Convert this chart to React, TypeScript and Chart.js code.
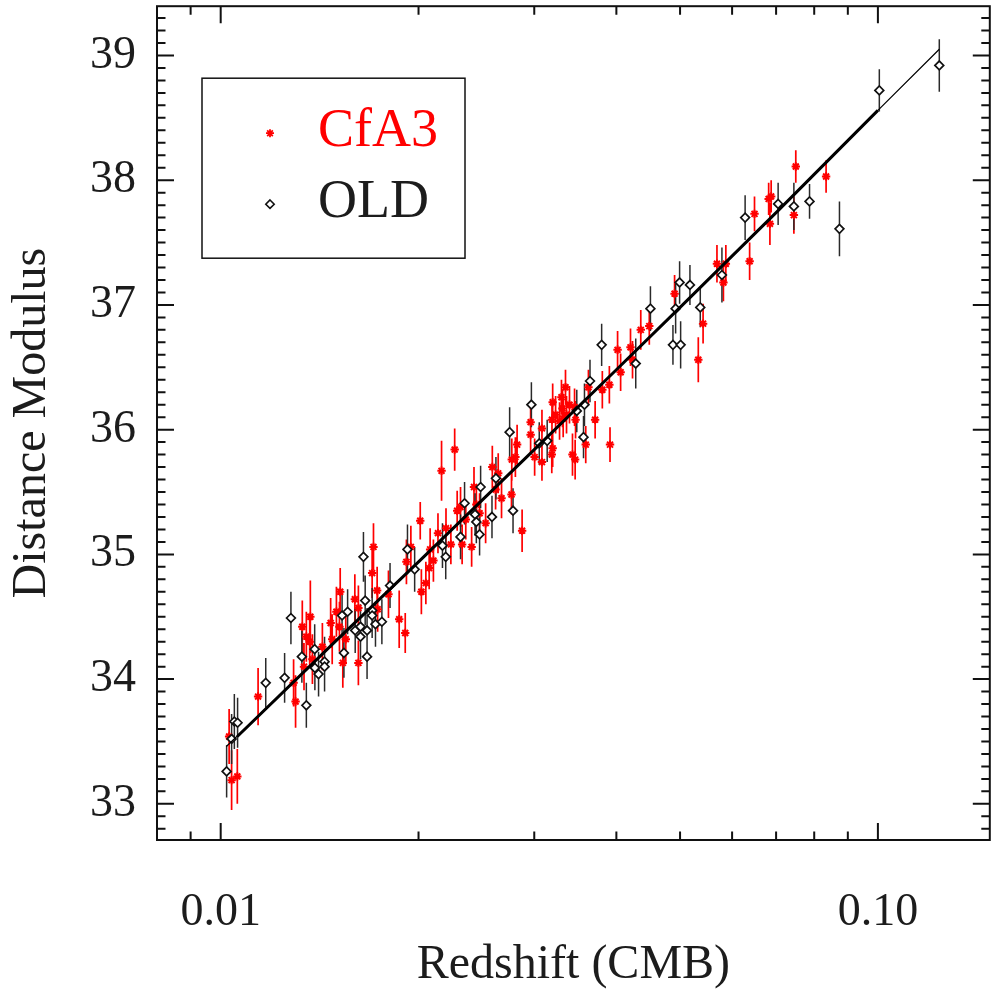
import React, { useEffect, useRef } from 'react';
import { Chart, registerables } from 'chart.js';

Chart.register(...registerables);

const SERIF = '"Liberation Serif", "DejaVu Serif", serif';
const TEXT = '#1c1c1c';

// ---- CfA3 sample (red asterisks) ----
const cfa3Z = [
  0.01039, 0.0106, 0.0103, 0.0114, 0.01291, 0.013, 0.01331, 0.0135, 0.01369, 0.01366,
  0.01379, 0.01339, 0.01428, 0.0147, 0.01478, 0.015, 0.01516, 0.0152, 0.0155, 0.01534,
  0.016, 0.0162, 0.0162, 0.017, 0.01708, 0.0173, 0.01733, 0.018, 0.01869, 0.01909,
  0.01917, 0.01947, 0.0202, 0.02052, 0.02076, 0.02107, 0.02083, 0.02012, 0.02141, 0.02202,
  0.02168, 0.0227, 0.0224, 0.0229, 0.02317, 0.0233, 0.0236, 0.02409, 0.02429, 0.02449,
  0.02477, 0.0253, 0.0259, 0.0262, 0.02644, 0.02675, 0.0277, 0.02773, 0.02825, 0.02808,
  0.02875, 0.02962, 0.02962, 0.03004, 0.03082, 0.03082, 0.032, 0.03192, 0.032, 0.03233,
  0.03278, 0.033, 0.03312, 0.03347, 0.03359, 0.03394, 0.03455, 0.03467, 0.0343, 0.03462,
  0.03593, 0.03627, 0.03713, 0.03808, 0.03903, 0.03912, 0.04017, 0.0406, 0.04203, 0.04233,
  0.04357, 0.04489, 0.04905, 0.0533, 0.0542, 0.0569, 0.0587, 0.0582, 0.0638, 0.0649,
  0.0682, 0.0688, 0.0685, 0.0745, 0.075, 0.0834, 0.0332, 0.0319,
];
const cfa3Mu = [
  33.19, 33.22, 33.54, 33.86, 33.97, 33.82, 34.42, 34.34, 34.5, 34.3,
  34.16, 34.1, 34.26, 34.45, 34.32, 34.54, 34.42, 34.7, 34.32, 34.13,
  34.64, 34.57, 34.13, 34.85, 35.06, 34.71, 34.56, 34.68, 34.48, 34.37,
  34.94, 35.06, 34.7, 34.77, 34.89, 34.95, 35.04, 35.27, 35.17, 35.21,
  35.67, 35.84, 35.08, 35.35, 35.38, 35.08, 35.28, 35.06, 35.54, 35.4,
  35.33, 35.25, 35.7, 35.52, 35.65, 35.45, 35.48, 35.76, 35.88, 35.78,
  35.19, 36.06, 35.96, 35.78, 36.01, 35.74, 35.85, 36.08, 36.22, 36.12,
  36.07, 36.26, 36.17, 36.34, 36.12, 36.2, 36.18, 36.08, 35.8, 35.76,
  35.88, 36.34, 36.08, 36.32, 36.36, 35.88, 36.64, 36.46, 36.66, 36.56,
  36.8, 36.83, 37.09, 36.56, 36.85, 37.33, 37.33, 37.18, 37.35, 37.73,
  37.85, 37.87, 37.65, 37.72, 38.11, 38.03, 36.09, 35.8,
];
const cfa3Err = [
  0.24, 0.22, 0.22, 0.23, 0.19, 0.21, 0.21, 0.2, 0.29, 0.2,
  0.2, 0.19, 0.19, 0.2, 0.2, 0.2, 0.2, 0.19, 0.2, 0.2,
  0.2, 0.18, 0.18, 0.2, 0.19, 0.19, 0.18, 0.19, 0.23, 0.16,
  0.18, 0.17, 0.18, 0.17, 0.17, 0.17, 0.17, 0.15, 0.16, 0.16,
  0.24, 0.17, 0.16, 0.16, 0.16, 0.16, 0.16, 0.16, 0.16, 0.16,
  0.16, 0.16, 0.17, 0.16, 0.16, 0.16, 0.16, 0.17, 0.16, 0.16,
  0.17, 0.15, 0.15, 0.15, 0.15, 0.15, 0.15, 0.15, 0.15, 0.15,
  0.15, 0.14, 0.15, 0.14, 0.15, 0.15, 0.15, 0.15, 0.17, 0.16,
  0.15, 0.14, 0.15, 0.15, 0.15, 0.14, 0.15, 0.15, 0.15, 0.15,
  0.16, 0.15, 0.15, 0.18, 0.16, 0.15, 0.15, 0.15, 0.15, 0.14,
  0.13, 0.13, 0.17, 0.15, 0.13, 0.13, 0.15, 0.15,
];

// ---- OLD sample (black diamonds) ----
const oldZ = [
  0.01021, 0.01039, 0.01049, 0.01061, 0.01171, 0.01251, 0.0135, 0.01279, 0.01329, 0.0139,
  0.01391, 0.01409, 0.01439, 0.01439, 0.0153, 0.0156, 0.0154, 0.01602, 0.01632, 0.01632,
  0.01659, 0.0167, 0.0167, 0.01649, 0.017, 0.017, 0.0172, 0.01759, 0.0181, 0.01924,
  0.01973, 0.022, 0.02175, 0.02317, 0.0235, 0.02438, 0.02449, 0.02486, 0.02477, 0.02587,
  0.02623, 0.02785, 0.02752, 0.0297, 0.03053, 0.03139, 0.03482, 0.03577, 0.03565, 0.03647,
  0.03799, 0.04281, 0.04507, 0.04877, 0.0501, 0.04923, 0.04992, 0.05176, 0.05367, 0.0579,
  0.0628, 0.0705, 0.0745, 0.0787, 0.0874, 0.1005, 0.124,
];
const oldMu = [
  33.26, 33.52, 33.66, 33.65, 33.97, 34.01, 33.79, 34.49, 34.18, 34.24,
  34.09, 34.04, 34.14, 34.1, 34.51, 34.54, 34.21, 34.39, 34.42, 34.34,
  34.63, 34.39, 34.18, 34.98, 34.55, 34.51, 34.44, 34.46, 34.75, 35.04,
  34.88, 34.98, 35.07, 35.14, 35.41, 35.32, 35.26, 35.54, 35.16, 35.3,
  35.61, 35.35, 35.98, 36.2, 35.89, 35.91, 36.15, 36.2, 35.94, 36.39,
  36.68, 36.53, 36.97, 36.68, 36.68, 36.97, 37.18, 37.16, 36.98, 37.24,
  37.7, 37.81, 37.79, 37.83, 37.61, 38.72, 38.92,
];
const oldErr = [
  0.21, 0.2, 0.22, 0.2, 0.2, 0.2, 0.18, 0.21, 0.21, 0.2,
  0.18, 0.18, 0.2, 0.2, 0.18, 0.18, 0.2, 0.18, 0.18, 0.18,
  0.2, 0.18, 0.18, 0.2, 0.18, 0.18, 0.18, 0.18, 0.18, 0.2,
  0.18, 0.18, 0.18, 0.18, 0.17, 0.17, 0.17, 0.17, 0.17, 0.17,
  0.17, 0.18, 0.2, 0.18, 0.17, 0.17, 0.17, 0.17, 0.17, 0.17,
  0.17, 0.2, 0.18, 0.16, 0.19, 0.2, 0.17, 0.16, 0.16, 0.22,
  0.18, 0.17, 0.19, 0.14, 0.22, 0.17, 0.21,
];

// ---- fitted Hubble line ----
const fitZ = [0.0102, 0.015, 0.02, 0.03, 0.04, 0.05, 0.07, 0.1, 0.124];
const fitMu = [33.46, 34.31, 34.94, 35.84, 36.48, 36.98, 37.74, 38.56, 39.05];
const fitCoreZ = [0.0106, 0.015, 0.02, 0.03, 0.04, 0.05, 0.07, 0.1];
const fitCoreMu = [33.54, 34.31, 34.94, 35.84, 36.48, 36.98, 37.74, 38.56];

// ---- axes ----
const xTickValues = [0.01, 0.1];
const xTickLabels = ['0.01', '0.10'];
const xMinorTicks = [0.009, 0.02, 0.03, 0.04, 0.05, 0.06, 0.07, 0.08, 0.09];
const yTickValues = [33, 34, 35, 36, 37, 38, 39];
const yTickLabels = ['33', '34', '35', '36', '37', '38', '39'];
const legendLabels = ['CfA3', 'OLD'];

const drawStar = (ctx: CanvasRenderingContext2D, cx: number, cy: number, r: number) => {
  ctx.beginPath();
  ctx.moveTo(cx - r, cy); ctx.lineTo(cx + r, cy);
  ctx.moveTo(cx, cy - r); ctx.lineTo(cx, cy + r);
  const d = r * Math.SQRT1_2;
  ctx.moveTo(cx - d, cy - d); ctx.lineTo(cx + d, cy + d);
  ctx.moveTo(cx - d, cy + d); ctx.lineTo(cx + d, cy - d);
  ctx.stroke();
};
const drawDiamond = (ctx: CanvasRenderingContext2D, cx: number, cy: number, r: number) => {
  ctx.beginPath();
  ctx.moveTo(cx, cy - r); ctx.lineTo(cx + r, cy); ctx.lineTo(cx, cy + r); ctx.lineTo(cx - r, cy);
  ctx.closePath();
  ctx.fillStyle = '#fff';
  ctx.fill();
  ctx.stroke();
};

const errorBarPlugin = {
  id: 'errorBars',
  beforeDatasetsDraw(chart: any) {
    const { ctx } = chart;
    const x = chart.scales.x;
    const y = chart.scales.y;
    const draw = (zs: number[], ms: number[], es: number[], color: string, w: number) => {
      ctx.save();
      ctx.strokeStyle = color;
      ctx.lineWidth = w;
      ctx.beginPath();
      for (let i = 0; i < zs.length; i++) {
        const px = x.getPixelForValue(zs[i]);
        ctx.moveTo(px, y.getPixelForValue(ms[i] - es[i]));
        ctx.lineTo(px, y.getPixelForValue(ms[i] + es[i]));
      }
      ctx.stroke();
      ctx.restore();
    };
    draw(cfa3Z, cfa3Mu, cfa3Err, '#ff0000', 1.7);
    draw(oldZ, oldMu, oldErr, '#2a2a2a', 1.5);
  },
};

const framePlugin = {
  id: 'frameTicks',
  afterDatasetsDraw(chart: any) {
    const { ctx, chartArea } = chart;
    const { left, right, top, bottom } = chartArea;
    const x = chart.scales.x;
    const y = chart.scales.y;
    ctx.save();
    ctx.strokeStyle = '#111';
    ctx.lineWidth = 2;
    ctx.strokeRect(left, top, right - left, bottom - top);
    ctx.beginPath();
    const major = 17;
    const minor = 8.5;
    const xt = (v: number, len: number) => {
      const px = x.getPixelForValue(v);
      ctx.moveTo(px, bottom); ctx.lineTo(px, bottom - len);
      ctx.moveTo(px, top); ctx.lineTo(px, top + len);
    };
    xTickValues.forEach((v) => xt(v, major));
    xMinorTicks.forEach((v) => xt(v, minor));
    const yt = (v: number, len: number) => {
      const py = y.getPixelForValue(v);
      ctx.moveTo(left, py); ctx.lineTo(left + len, py);
      ctx.moveTo(right, py); ctx.lineTo(right - len, py);
    };
    yTickValues.forEach((v) => yt(v, major));
    for (let t = 328; t <= 393; t++) {
      if (t % 10 !== 0) yt(t / 10, minor);
    }
    ctx.stroke();
    ctx.restore();
  },
};

const legendPlugin = {
  id: 'boxLegend',
  afterDraw(chart: any) {
    const { ctx, chartArea } = chart;
    const bx = chartArea.left + 45;
    const by = chartArea.top + 72;
    ctx.save();
    ctx.strokeStyle = '#111';
    ctx.lineWidth = 1.5;
    ctx.strokeRect(bx, by, 263, 180);
    ctx.lineWidth = 1.8;
    ctx.strokeStyle = '#ff0000';
    drawStar(ctx, bx + 68, by + 55, 4);
    ctx.lineWidth = 1.6;
    ctx.strokeStyle = '#111';
    drawDiamond(ctx, bx + 68, by + 126, 4.2);
    ctx.font = `54px ${SERIF}`;
    ctx.textBaseline = 'middle';
    ctx.textAlign = 'left';
    ctx.fillStyle = '#ff0000';
    ctx.fillText(legendLabels[0], bx + 116, by + 54);
    ctx.fillStyle = TEXT;
    ctx.fillText(legendLabels[1], bx + 116, by + 125);
    ctx.restore();
  },
};

export default function App() {
  const ref = useRef<HTMLCanvasElement>(null);
  useEffect(() => {
    document.body.style.margin = '0';
    const canvas = ref.current as HTMLCanvasElement;
    const pts = (zs: number[], ms: number[]) => zs.map((z, i) => ({ x: z, y: ms[i] }));
    const chart = new Chart(canvas, {
      type: 'scatter',
      data: {
        datasets: [
          {
            label: 'fit',
            data: pts(fitZ, fitMu),
            showLine: true,
            borderColor: '#000',
            borderWidth: 1.2,
            pointRadius: 0,
            fill: false,
          },
          {
            label: 'fitCore',
            data: pts(fitCoreZ, fitCoreMu),
            showLine: true,
            borderColor: '#000',
            borderWidth: 3,
            pointRadius: 0,
            fill: false,
          },
          {
            label: 'OLD',
            data: pts(oldZ, oldMu),
            pointStyle: 'rectRot',
            pointRadius: 4.4,
            borderColor: '#111',
            pointBorderColor: '#111',
            backgroundColor: '#fff',
            pointBackgroundColor: '#fff',
            pointBorderWidth: 1.7,
            borderWidth: 1.7,
          },
          {
            label: 'CfA3',
            data: pts(cfa3Z, cfa3Mu),
            pointStyle: 'star',
            pointRadius: 4.2,
            borderColor: '#ff0000',
            pointBorderColor: '#ff0000',
            backgroundColor: '#ff0000',
            pointBackgroundColor: '#ff0000',
            pointBorderWidth: 2,
            borderWidth: 2,
          },
        ],
      },
      options: {
        responsive: false,
        animation: false,
        devicePixelRatio: 1,
        layout: { padding: { left: 0, top: 5, right: 3, bottom: 0 } },
        plugins: { legend: { display: false }, tooltip: { enabled: false } },
        scales: {
          x: {
            type: 'logarithmic',
            min: 0.008,
            max: 0.148,
            grid: { display: false },
            border: { display: false },
            afterBuildTicks: (s: any) => {
              s.ticks = xTickValues.map((v) => ({ value: v }));
            },
            afterFit: (s: any) => {
              s.height = 155;
              s.paddingLeft = 0;
              s.paddingRight = 0;
            },
            ticks: {
              autoSkip: false,
              maxRotation: 0,
              minRotation: 0,
              padding: 37,
              color: TEXT,
              font: { family: SERIF, size: 46 },
              callback: (_v: any, i: number) => xTickLabels[i],
            },
            title: {
              display: true,
              text: 'Redshift (CMB)',
              color: TEXT,
              font: { family: SERIF, size: 48 },
              padding: { top: 0, bottom: 1 },
            },
          },
          y: {
            type: 'linear',
            min: 32.71,
            max: 39.395,
            grid: { display: false },
            border: { display: false },
            afterBuildTicks: (s: any) => {
              s.ticks = yTickValues.map((v) => ({ value: v }));
            },
            afterFit: (s: any) => {
              s.width = 157;
              s.paddingTop = 0;
              s.paddingBottom = 0;
            },
            ticks: {
              autoSkip: false,
              padding: 13,
              color: TEXT,
              font: { family: SERIF, size: 46 },
              callback: (_v: any, i: number) => yTickLabels[i],
            },
            title: {
              display: true,
              text: 'Distance Modulus',
              color: TEXT,
              font: { family: SERIF, size: 48 },
              padding: { top: 4, bottom: 0 },
            },
          },
        },
      },
      plugins: [errorBarPlugin, framePlugin, legendPlugin],
    } as any);
    return () => chart.destroy();
  }, []);
  return <canvas ref={ref} width={996} height={995} style={{ display: 'block' }} />;
}
